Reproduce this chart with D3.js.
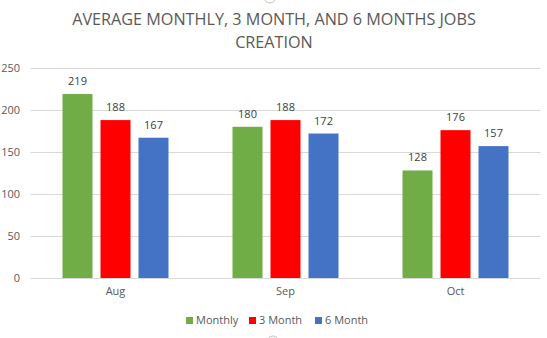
<!DOCTYPE html>
<html><head><meta charset="utf-8">
<script src="https://cdn.jsdelivr.net/npm/d3@7"></script>
<style>body{margin:0;background:#fff;}svg{display:block;font-family:"Open Sans",sans-serif;}</style>
</head><body>
<svg id="c" width="547" height="338"></svg>
<script>
const categories = ["Aug", "Sep", "Oct"];
const seriesNames = ["Monthly", "3 Month", "6 Month"];
const monthly = [219, 180, 128];
const threeMonth = [188, 188, 176];
const sixMonth = [167, 172, 157];
const yTicks = [0, 50, 100, 150, 200, 250];
const colors = ["#70AD47", "#FF0000", "#4472C4"];
const titleLines = ["AVERAGE MONTHLY, 3 MONTH, AND 6 MONTHS JOBS", "CREATION"];

const values = [monthly, threeMonth, sixMonth];
const svg = d3.select("#c");
const txt = "#595959";

const x0 = d3.scaleBand().domain(categories).range([30.5, 540.5]);
const x1 = d3.scaleBand().domain(seriesNames).range([32, 138]).paddingInner(8/38);
const y = d3.scaleLinear().domain([0, 250]).range([278, 68]);

// gridlines
svg.append("g").selectAll("line").data(yTicks).join("line")
  .attr("x1", 30.5).attr("x2", 540.5)
  .attr("y1", d => Math.round(y(d)) + 0.5).attr("y2", d => Math.round(y(d)) + 0.5)
  .attr("stroke", "#D9D9D9").attr("stroke-width", 1);

// y axis labels
const yAxis = d3.axisLeft(y).tickValues(yTicks).tickSize(0).tickPadding(0);
const ya = svg.append("g").attr("transform", "translate(20,0)").call(yAxis);
ya.select(".domain").remove();
ya.selectAll("text").attr("fill", txt).style("font-size", "11px").style("font-family", "'Open Sans',sans-serif");

// x axis labels
const xAxis = d3.axisBottom(x0).tickSize(0).tickPadding(0);
const xa = svg.append("g").attr("transform", "translate(0,287)").call(xAxis);
xa.select(".domain").remove();
xa.selectAll("text").attr("fill", txt).style("font-size", "11px").style("font-family", "'Open Sans',sans-serif");

// bars
const groups = svg.append("g").selectAll("g").data(categories).join("g")
  .attr("transform", d => `translate(${x0(d)},0)`);
groups.each(function(cat, ci) {
  const g = d3.select(this);
  seriesNames.forEach((s, si) => {
    const v = values[si][ci];
    g.append("rect").attr("x", x1(s)).attr("width", x1.bandwidth())
      .attr("y", y(v)).attr("height", y(0) - y(v)).attr("fill", colors[si]);
    g.append("text").attr("x", x1(s) + x1.bandwidth()/2).attr("y", y(v) - 9)
      .attr("text-anchor", "middle").attr("fill", "#404040").style("font-size", "11px").text(v);
  });
});

// title
svg.append("g").selectAll("text").data(titleLines).join("text")
  .attr("x", 274).attr("y", (d, i) => 25 + i * 23).attr("text-anchor", "middle")
  .attr("fill", txt).style("font-size", "16.2px").text(d => d);

// legend
const legX = [186, 249, 315];
const leg = svg.append("g").selectAll("g").data(seriesNames).join("g")
  .attr("transform", (d, i) => `translate(${legX[i]},316)`);
leg.append("rect").attr("width", 7).attr("height", 7).attr("y", 1).attr("fill", (d, i) => colors[i]);
leg.append("text").attr("x", 10).attr("y", 8).attr("fill", txt).style("font-size", "11px").text(d => d);

// selection handles (partial circles at edges)
svg.append("circle").attr("cx", 270).attr("cy", -3).attr("r", 6).attr("fill", "#fff").attr("stroke", "#BFBFBF");
svg.append("circle").attr("cx", 273).attr("cy", 342).attr("r", 6).attr("fill", "#fff").attr("stroke", "#BFBFBF");
</script>
</body></html>
